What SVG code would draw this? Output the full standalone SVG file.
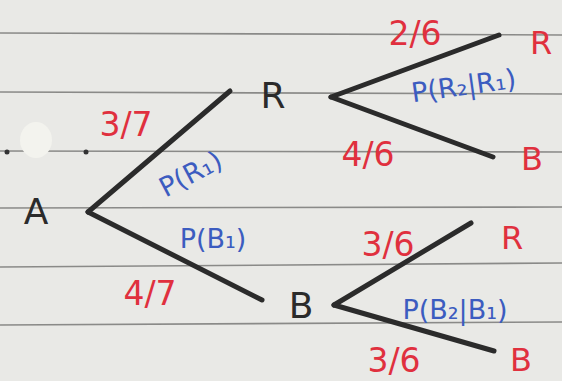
<svg xmlns="http://www.w3.org/2000/svg" width="562" height="381" viewBox="0 0 562 381">
<style>
.rule{stroke:#8a8a88;stroke-width:1.6}
.edge{stroke:#2b2b2b;stroke-width:5;stroke-linecap:round;fill:none}
.node{font-family:"DejaVu Sans",sans-serif;font-size:36px;fill:#2b2b2b;text-anchor:middle}
.leaf{font-family:"DejaVu Sans",sans-serif;font-size:32px;fill:#e0303e;text-anchor:middle}
.prob{font-family:"DejaVu Sans",sans-serif;font-size:33px;fill:#e0303e;text-anchor:middle}
.cond{font-family:"DejaVu Sans",sans-serif;font-size:27px;fill:#3c5cc0;text-anchor:middle}
</style>
<rect width="562" height="381" fill="#e9e9e6"/>
<g id="paper">
<line class="rule" x1="0" y1="33" x2="562" y2="35"/>
<line class="rule" x1="0" y1="92" x2="562" y2="94"/>
<line class="rule" x1="0" y1="151" x2="562" y2="152"/>
<line class="rule" x1="0" y1="208" x2="562" y2="207"/>
<line class="rule" x1="0" y1="267" x2="562" y2="263"/>
<line class="rule" x1="0" y1="325" x2="562" y2="322"/>
<circle cx="7" cy="152" r="2.5" fill="#333"/>
<circle cx="86" cy="152" r="2.5" fill="#333"/>
<ellipse cx="36" cy="140" rx="16" ry="18" fill="#f3f3ee"/>
</g>
<g id="connectors">
<line class="edge" x1="88" y1="212" x2="230" y2="91"/>
<line class="edge" x1="88" y1="212" x2="262" y2="300"/>
<line class="edge" x1="331" y1="97" x2="499" y2="35"/>
<line class="edge" x1="331" y1="97" x2="493" y2="157"/>
<line class="edge" x1="334" y1="305" x2="471" y2="223"/>
<line class="edge" x1="334" y1="305" x2="494" y2="351"/>
</g>
<g id="node-A"><text class="node" x="36" y="224">A</text></g>
<g id="node-R1"><text class="node" x="273" y="108">R</text></g>
<g id="node-B1"><text class="node" x="301" y="318">B</text></g>
<g id="node-RR"><text class="leaf" x="541" y="54">R</text></g>
<g id="node-RB"><text class="leaf" x="532" y="170">B</text></g>
<g id="node-BR"><text class="leaf" x="512" y="249">R</text></g>
<g id="node-BB"><text class="leaf" x="521" y="371">B</text></g>
<g id="labels">
<text class="prob" x="126" y="136">3/7</text>
<text class="prob" x="150" y="305">4/7</text>
<text class="prob" x="415" y="45">2/6</text>
<text class="prob" x="368" y="166">4/6</text>
<text class="prob" x="388" y="256">3/6</text>
<text class="prob" x="394" y="372">3/6</text>
<text class="cond" transform="translate(195,182) rotate(-28)">P(R₁)</text>
<text class="cond" x="213" y="248">P(B₁)</text>
<text class="cond" transform="translate(465,95) rotate(-8)">P(R₂|R₁)</text>
<text class="cond" x="455" y="319">P(B₂|B₁)</text>
</g>
</svg>
